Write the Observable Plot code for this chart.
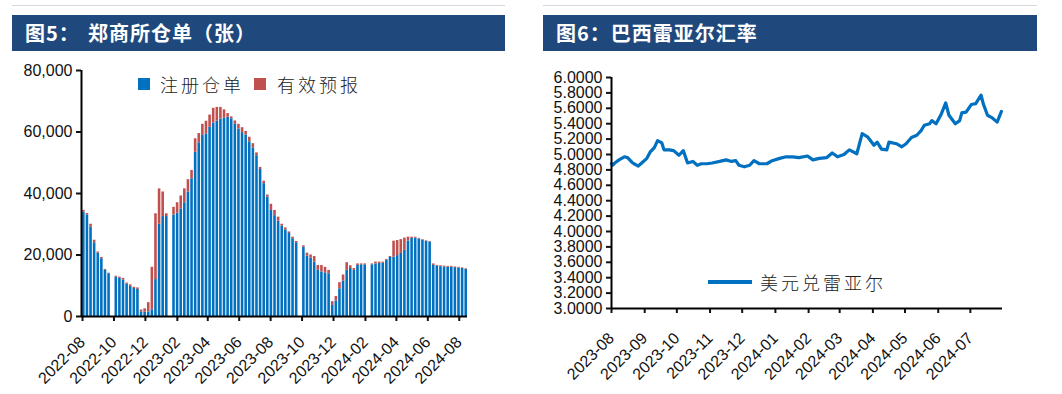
<!DOCTYPE html>
<html><head><meta charset="utf-8">
<script src="https://cdn.jsdelivr.net/npm/d3@7"></script>
<script src="https://cdn.jsdelivr.net/npm/@observablehq/plot@0.6"></script>
<style>
body{margin:0;background:#fff;width:1062px;height:394px;position:relative;overflow:hidden;font-family:"Liberation Sans",Arial,sans-serif;}
.hdr{position:absolute;top:15px;height:36px;background:#1F497D;color:#fff;font-family:"Noto Sans CJK SC",sans-serif;font-weight:700;font-size:20px;}
.hdrline{position:absolute;top:5px;height:1px;background:#d4d8de;}
.hdr span{position:absolute;top:50%;transform:translateY(-52%);white-space:nowrap;letter-spacing:1px;}
.panel{position:absolute;top:55px;}
.legend{position:absolute;font-family:"Noto Sans CJK SC",sans-serif;font-weight:300;font-size:18px;letter-spacing:3px;color:#222;white-space:nowrap;line-height:20px;}
.sq{position:absolute;width:12px;height:12px;}
</style></head>
<body>
<div class="hdrline" style="left:12px;width:493px"></div>
<div class="hdr" style="left:12px;width:493px"><span style="left:13px">图5：</span><span style="left:76px">郑商所仓单（张）</span></div>
<div class="hdrline" style="left:543px;width:494px"></div>
<div class="hdr" style="left:543px;width:494px"><span style="left:13px">图6：巴西雷亚尔汇率</span></div>
<div id="left" class="panel" style="left:0px"></div>
<div id="right" class="panel" style="left:530px"></div>
<div class="sq" style="left:138px;top:78px;background:#0070C0"></div>
<div class="legend" style="left:160px;top:74px">注册仓单</div>
<div class="sq" style="left:254px;top:78px;background:#C0504D"></div>
<div class="legend" style="left:277px;top:74px">有效预报</div>
<div style="position:absolute;left:708px;top:280px;width:44px;height:4px;background:#0070C0"></div>
<div class="legend" style="left:760px;top:272px">美元兑雷亚尔</div>
<script>
// ---------- Left chart: 郑商所仓单 (weekly, Monday starts) ----------
const weekStart = "2022-08-01";
const weekEnd = "2024-08-13";
const registered = [
  34000, 33000, 29000, 24000, 20600, 18800, 15000, 13900, null, 12800,
  12400, 11800, 10500, 9800, 9100, 8800, 1500, 1400, 1500, 2200,
  12000, 30000, 32500, 32500, null, 33000, 33600, 35000, 37000, 40500,
  44800, 53400, 56500, 58900, 59400, 61500, 62900, 63600, 64200, 64500,
  64800, 64300, 62500, 61000, 59800, 59000, 56800, 54800, 52300, 47800,
  43200, 38800, 34500, 32800, 31000, 29400, 28200, 27000, 25300, 24000,
  null, 22500, 19600, 19000, 17700, 15000, 14500, 14200, 13900, 3600,
  5000, 9000, 11500, 15000, 15600, 15000, 16600, 16800, 16800, null,
  16800, 17100, 17300, 17300, 18200, 19200, 19300, 19800, 20500, 21500,
  24500, 25400, 25500, 25200, 24800, 24400, 24200, 16600, 16300, 16200,
  16100, 16000, 16000, 15900, 15800, 15600, 15300
];
const forecast = [
  500, 500, 1000, 800, 400, 400, 300, 200, null, 300,
  400, 600, 400, 500, 400, 500, 600, 1100, 3000, 13800,
  21400, 11500, 8000, 900, null, 2500, 3400, 4200, 4500, 4000,
  2700, 4400, 3000, 3600, 4100, 4000, 4800, 4400, 3800, 2700,
  1200, 600, 1100, 1500, 1600, 1200, 1500, 1400, 900, 700,
  800, 700, 2000, 1700, 1300, 600, 600, 500, 500, 400,
  null, 500, 1000, 1000, 1800, 1600, 2100, 1800, 1100, 1200,
  1500, 2000, 2000, 2500, 900, 600, 500, 300, 300, null,
  300, 600, 400, 400, 300, 300, 5200, 4900, 4500, 4000,
  1300, 400, 300, 200, 200, 200, 200, 500, 300, 300,
  300, 300, 300, 200, 200, 200, 200
];
const leftSeries = ["注册仓单", "有效预报"];
const leftColors = ["#0070C0", "#C0504D"];
const leftTickLabels = ["2022-08","2022-10","2022-12","2023-02","2023-04","2023-06","2023-08","2023-10","2023-12","2024-02","2024-04","2024-06","2024-08"];
const leftYTicks = [0, 20000, 40000, 60000, 80000];

// ---------- Right chart: 美元兑雷亚尔 ----------
const fxDates = [
  "2023-08-01","2023-08-02","2023-08-05","2023-08-08","2023-08-13","2023-08-16","2023-08-20","2023-08-22","2023-08-26","2023-08-30",
  "2023-09-03","2023-09-06","2023-09-10","2023-09-13","2023-09-17","2023-09-19","2023-09-24","2023-09-28","2023-10-03","2023-10-07",
  "2023-10-11","2023-10-16","2023-10-20","2023-10-24","2023-10-29","2023-11-03","2023-11-10","2023-11-16","2023-11-21","2023-11-25",
  "2023-11-28","2023-12-03","2023-12-08","2023-12-12","2023-12-17","2023-12-24","2023-12-29","2024-01-05","2024-01-11","2024-01-17",
  "2024-01-23","2024-01-31","2024-02-05","2024-02-11","2024-02-18","2024-02-23","2024-02-28","2024-03-05","2024-03-10","2024-03-17",
  "2024-03-22","2024-03-27","2024-04-02","2024-04-05","2024-04-09","2024-04-14","2024-04-16","2024-04-23","2024-04-28","2024-05-02",
  "2024-05-07","2024-05-12","2024-05-16","2024-05-19","2024-05-24","2024-05-26","2024-05-30","2024-06-04","2024-06-08","2024-06-11",
  "2024-06-17","2024-06-21","2024-06-23","2024-06-27","2024-07-02","2024-07-06","2024-07-11","2024-07-13","2024-07-17","2024-07-21",
  "2024-07-26","2024-07-30"
];
const fxValues = [
  4.88, 4.86, 4.90, 4.93, 4.97, 4.96, 4.90, 4.88, 4.85, 4.90,
  4.95, 5.03, 5.09, 5.18, 5.15, 5.06, 5.06, 5.05, 4.99, 5.05,
  4.89, 4.91, 4.86, 4.88, 4.88, 4.89, 4.91, 4.93, 4.91, 4.92,
  4.86, 4.84, 4.86, 4.92, 4.88, 4.88, 4.92, 4.95, 4.97, 4.97,
  4.96, 4.98, 4.93, 4.95, 4.96, 5.02, 4.97, 5.00, 5.06, 5.01,
  5.27, 5.23, 5.12, 5.16, 5.07, 5.06, 5.16, 5.14, 5.10, 5.14,
  5.22, 5.25, 5.31, 5.38, 5.40, 5.44, 5.40, 5.53, 5.67, 5.51,
  5.40, 5.44, 5.54, 5.55, 5.65, 5.66, 5.77, 5.66, 5.51, 5.48,
  5.42, 5.56
];
const rightTickLabels = ["2023-08","2023-09","2023-10","2023-11","2023-12","2024-01","2024-02","2024-03","2024-04","2024-05","2024-06","2024-07"];
const rightYTicks = [3.0, 3.2, 3.4, 3.6, 3.8, 4.0, 4.2, 4.4, 4.6, 4.8, 5.0, 5.2, 5.4, 5.6, 5.8, 6.0];

const parseDay = d3.utcParse("%Y-%m-%d");
const parseMonth = d3.utcParse("%Y-%m");
const fmtMonth = d3.utcFormat("%Y-%m");

const axisStyle = {fontSize: "16px", fontFamily: "'Liberation Sans', Arial, sans-serif", color: "#111", background: "transparent", overflow: "visible"};

// Build left rows
const weeks = d3.utcMonday.range(parseDay(weekStart), parseDay(weekEnd));
const rects = [];
weeks.forEach((w, i) => {
  const r = registered[i], f = forecast[i];
  if (r == null) return;
  const end = d3.utcDay.offset(w, 5);
  rects.push({x1: w, x2: end, y1: 0, y2: r, s: leftSeries[0]});
  rects.push({x1: w, x2: end, y1: r, y2: r + f, s: leftSeries[1]});
});
const leftX0 = parseDay("2022-07-30"), leftX1 = parseDay("2024-08-17");

const left = Plot.plot({
  width: 530, height: 339,
  marginLeft: 81, marginRight: 63, marginTop: 15, marginBottom: 78,
  style: axisStyle,
  x: {type: "utc", domain: [leftX0, leftX1]},
  y: {domain: [0, 80000]},
  color: {domain: leftSeries, range: leftColors},
  marks: [
    Plot.rect(rects, {x1: "x1", x2: "x2", y1: "y1", y2: "y2", fill: "s"}),
    Plot.axisY({ticks: leftYTicks, tickFormat: d3.format(","), tickSize: 5, tickPadding: 4, strokeWidth: 2, label: null}),
    Plot.axisX({ticks: leftTickLabels.map(parseMonth), tickFormat: fmtMonth, tickSize: 5, tickPadding: 18, tickRotate: -45, strokeWidth: 2, label: null}),
    Plot.ruleY([0], {stroke: "#000", strokeWidth: 2}),
    Plot.ruleX([leftX0], {stroke: "#000", strokeWidth: 2})
  ]
});
document.getElementById("left").append(left);

const fx = fxDates.map((d, i) => ({date: parseDay(d), value: fxValues[i]}));
const rightX0 = parseDay("2023-08-01"), rightX1 = parseDay("2024-07-31");
const right = Plot.plot({
  width: 532, height: 339,
  marginLeft: 81, marginRight: 60, marginTop: 22, marginBottom: 86,
  style: axisStyle,
  x: {type: "utc", domain: [rightX0, rightX1]},
  y: {domain: [3, 6]},
  marks: [
    Plot.line(fx, {x: "date", y: "value", stroke: "#0070C0", strokeWidth: 3.2, curve: "linear"}),
    Plot.axisY({ticks: rightYTicks, tickFormat: d3.format(".4f"), tickSize: 5, tickPadding: 4, strokeWidth: 2, label: null}),
    Plot.axisX({ticks: rightTickLabels.map(parseMonth), tickFormat: fmtMonth, tickSize: 5, tickPadding: 22, tickRotate: -45, strokeWidth: 2, label: null}),
    Plot.ruleY([3], {stroke: "#000", strokeWidth: 2}),
    Plot.ruleX([rightX0], {stroke: "#000", strokeWidth: 2})
  ]
});
document.getElementById("right").append(right);
</script>
</body></html>
